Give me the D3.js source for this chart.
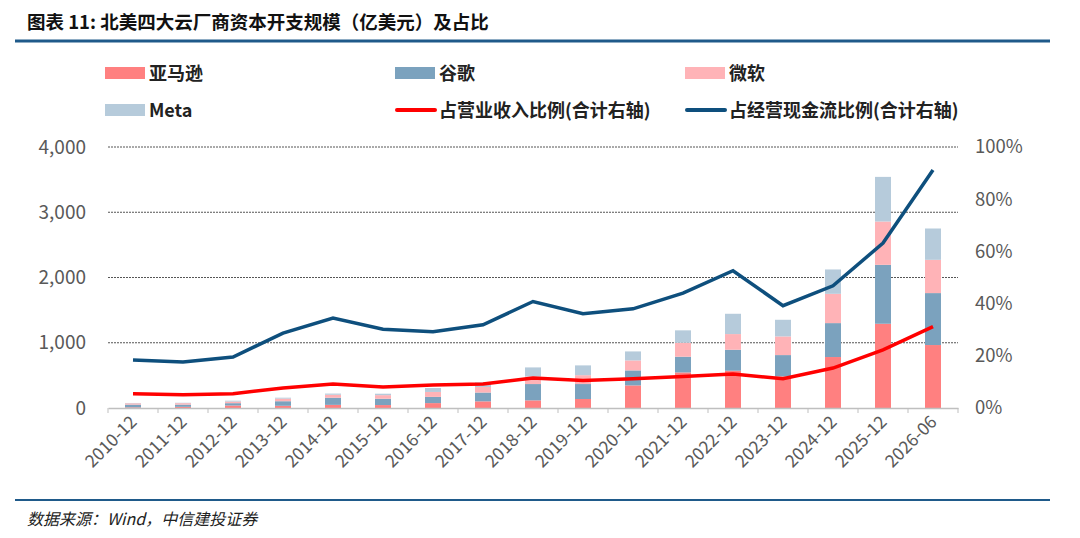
<!DOCTYPE html>
<html>
<head>
<meta charset="utf-8">
<script src="https://cdn.jsdelivr.net/npm/d3@7"></script>
<style>
  body { margin: 0; background: #fff; }
  text { font-family: "Noto Sans CJK SC", "Noto Sans", sans-serif; }
</style>
</head>
<body>
<div id="chart"></div>
<script>
// capex, 亿美元
var periods = ["2010-12", "2011-12", "2012-12", "2013-12", "2014-12", "2015-12", "2016-12", "2017-12",
  "2018-12", "2019-12", "2020-12", "2021-12", "2022-12", "2023-12", "2024-12", "2025-12", "2026-06"];
var amazon    = [10, 18, 38, 34, 48, 45, 75, 102, 117, 138, 346, 545, 571, 485, 781, 1291, 965];
var google    = [42, 34, 36, 70, 110, 97, 95, 135, 250, 229, 230, 241, 322, 326, 520, 903, 796];
var microsoft = [20, 22, 25, 40, 45, 55, 76, 85, 116, 136, 153, 214, 240, 286, 449, 664, 510];
var meta      = [5, 6, 13, 14, 18, 22, 60, 70, 139, 150, 138, 190, 311, 255, 373, 684, 480];
// ratios, %
var revenueRatio  = [5.5, 5.1, 5.5, 7.7, 9.2, 8.0, 8.8, 9.2, 11.5, 10.5, 11.2, 12.1, 13.0, 11.2, 15.3, 22.3, 31.2];
var cashflowRatio = [18.4, 17.6, 19.5, 28.7, 34.5, 30.2, 29.2, 31.9, 40.8, 36.1, 38.0, 44.0, 52.6, 39.2, 46.8, 63.2, 91.2];

var leftTicks = [0, 1000, 2000, 3000, 4000];
var rightTicks = [0, 20, 40, 60, 80, 100];

var seriesNames = ["亚马逊", "谷歌", "微软", "Meta"];
var seriesColors = ["#ff8080", "#7ba2be", "#ffb3b7", "#b6cbdb"];

var width = 1080, height = 538;
var margin = { top: 147, right: 122, bottom: 130, left: 108 };

var svg = d3.select("#chart").append("svg")
  .attr("width", width)
  .attr("height", height);

// title and rules
svg.append("text")
  .attr("x", 27).attr("y", 29)
  .attr("font-size", 18.5).attr("font-weight", "bold").attr("fill", "#111")
  .text("图表 11: 北美四大云厂商资本开支规模（亿美元）及占比");
svg.append("line")
  .attr("x1", 15).attr("x2", 1050).attr("y1", 41).attr("y2", 41)
  .attr("stroke", "#1f5a8a").attr("stroke-width", 3);
svg.append("line")
  .attr("x1", 15).attr("x2", 1050).attr("y1", 500).attr("y2", 500)
  .attr("stroke", "#1f5a8a").attr("stroke-width", 2);
svg.append("text")
  .attr("x", 27).attr("y", 525)
  .attr("font-size", 16).attr("font-style", "italic").attr("fill", "#222")
  .text("数据来源：Wind，中信建投证券");

var x = d3.scaleBand()
  .domain(periods)
  .range([margin.left, width - margin.right]);

var y = d3.scaleLinear()
  .domain([0, 4000])
  .range([height - margin.bottom, margin.top]);

var y2 = d3.scaleLinear()
  .domain([0, 100])
  .range([height - margin.bottom, margin.top]);

// grid
svg.append("g")
  .selectAll("line")
  .data(leftTicks.slice(1))
  .enter().append("line")
  .attr("x1", margin.left).attr("x2", width - margin.right)
  .attr("y1", function(d) { return y(d); })
  .attr("y2", function(d) { return y(d); })
  .attr("stroke", "#555")
  .attr("stroke-width", 1)
  .attr("stroke-dasharray", "2,1");

// stacked bars
var table = periods.map(function(p, i) {
  return { period: p, amazon: amazon[i], google: google[i], microsoft: microsoft[i], meta: meta[i] };
});
var stack = d3.stack().keys(["amazon", "google", "microsoft", "meta"]);
var layers = stack(table);

var barW = 16;
svg.append("g")
  .selectAll("g")
  .data(layers)
  .enter().append("g")
  .attr("fill", function(d, i) { return seriesColors[i]; })
  .selectAll("rect")
  .data(function(d) { return d; })
  .enter().append("rect")
  .attr("x", function(d) { return x(d.data.period) + x.bandwidth() / 2 - barW / 2; })
  .attr("width", barW)
  .attr("y", function(d) { return y(d[1]); })
  .attr("height", function(d) { return y(d[0]) - y(d[1]); });

// axes
var xAxis = svg.append("g")
  .attr("transform", "translate(0," + (height - margin.bottom) + ")")
  .call(d3.axisBottom(x).tickSize(0).tickFormat(""));
xAxis.select(".domain").attr("stroke", "#bfbfbf").attr("stroke-width", 1.5);

svg.append("g")
  .selectAll("line")
  .data(d3.range(periods.length + 1))
  .enter().append("line")
  .attr("x1", function(i) { return margin.left + i * x.step(); })
  .attr("x2", function(i) { return margin.left + i * x.step(); })
  .attr("y1", height - margin.bottom)
  .attr("y2", height - margin.bottom + 5)
  .attr("stroke", "#bfbfbf");

svg.append("g")
  .selectAll("text")
  .data(periods)
  .enter().append("text")
  .attr("transform", function(d) {
    return "translate(" + (x(d) + x.bandwidth() / 2 + 5) + "," + (height - margin.bottom + 15) + ") rotate(-45)";
  })
  .attr("text-anchor", "end")
  .attr("font-size", 17.5)
  .attr("fill", "#595959")
  .attr("font-family", "'Liberation Sans', Arial, sans-serif")
  .text(function(d) { return d; });

var yAxis = svg.append("g")
  .attr("transform", "translate(" + (margin.left - 19) + ",0)")
  .call(d3.axisLeft(y).tickValues(leftTicks).tickSize(0).tickFormat(d3.format(",")));
yAxis.select(".domain").remove();
yAxis.selectAll("text")
  .attr("font-size", 19).attr("fill", "#595959")
  .attr("font-family", "'Liberation Sans', Arial, sans-serif");

var yAxis2 = svg.append("g")
  .attr("transform", "translate(" + (width - margin.right + 14) + ",0)")
  .call(d3.axisRight(y2).tickValues(rightTicks).tickSize(0).tickFormat(function(d) { return d + "%"; }));
yAxis2.select(".domain").remove();
yAxis2.selectAll("text")
  .attr("font-size", 18.5).attr("fill", "#595959")
  .attr("font-family", "'Liberation Sans', Arial, sans-serif");

// ratio lines
var line = d3.line()
  .x(function(d, i) { return x(periods[i]) + x.bandwidth() / 2; })
  .y(function(d) { return y2(d); });

svg.append("path")
  .datum(revenueRatio)
  .attr("d", line)
  .attr("fill", "none")
  .attr("stroke", "#ff0000")
  .attr("stroke-width", 3.5);

svg.append("path")
  .datum(cashflowRatio)
  .attr("d", line)
  .attr("fill", "none")
  .attr("stroke", "#0e4f7d")
  .attr("stroke-width", 3.5);

// legend
var legendItems = [
  { name: seriesNames[0], color: seriesColors[0], type: "rect", x: 105, y: 73 },
  { name: seriesNames[1], color: seriesColors[1], type: "rect", x: 395, y: 73 },
  { name: seriesNames[2], color: seriesColors[2], type: "rect", x: 685, y: 73 },
  { name: seriesNames[3], color: seriesColors[3], type: "rect", x: 105, y: 110 },
  { name: "占营业收入比例(合计右轴)", color: "#ff0000", type: "line", x: 395, y: 110 },
  { name: "占经营现金流比例(合计右轴)", color: "#0e4f7d", type: "line", x: 685, y: 110 }
];

var legend = svg.append("g")
  .selectAll("g")
  .data(legendItems)
  .enter().append("g")
  .attr("transform", function(d) { return "translate(" + d.x + "," + d.y + ")"; });

legend.filter(function(d) { return d.type === "rect"; })
  .append("rect")
  .attr("x", 0).attr("y", -6)
  .attr("width", 40).attr("height", 12)
  .attr("fill", function(d) { return d.color; });

legend.filter(function(d) { return d.type === "line"; })
  .append("line")
  .attr("x1", 2).attr("x2", 40).attr("y1", 0).attr("y2", 0)
  .attr("stroke", function(d) { return d.color; })
  .attr("stroke-width", 4)
  .attr("stroke-linecap", "round");

legend.append("text")
  .attr("x", 44).attr("y", 6.5)
  .attr("font-size", 18).attr("font-weight", "bold").attr("fill", "#222")
  .text(function(d) { return d.name; });
</script>
</body>
</html>
